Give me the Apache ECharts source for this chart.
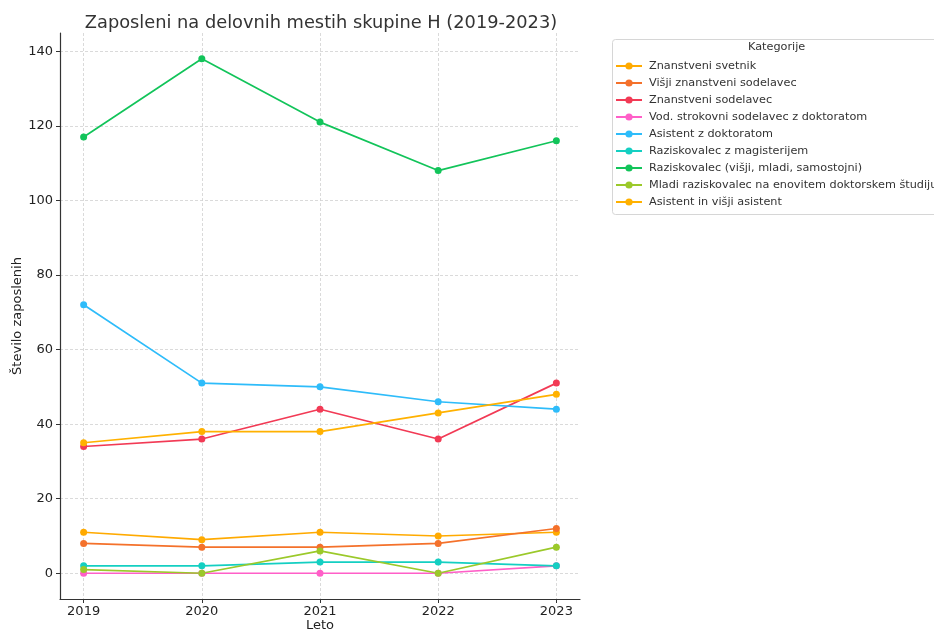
<!DOCTYPE html>
<html>
<head>
<meta charset="utf-8">
<script src="https://cdn.jsdelivr.net/npm/echarts@6/dist/echarts.min.js"></script>
<style>
html, body { margin: 0; padding: 0; background: #fff; }
#container { width: 934px; height: 632px; }
</style>
</head>
<body>
<div id="container"></div>
<script>
var dom = document.getElementById("container");
var myChart = echarts.init(dom);

// leta
var years = [2019, 2020, 2021, 2022, 2023];
var yTicks = [0, 20, 40, 60, 80, 100, 120, 140];

// kategorije in barve
var names = [
    'Znanstveni svetnik',
    'Višji znanstveni sodelavec',
    'Znanstveni sodelavec',
    'Vod. strokovni sodelavec z doktoratom',
    'Asistent z doktoratom',
    'Raziskovalec z magisterijem',
    'Raziskovalec (višji, mladi, samostojni)',
    'Mladi raziskovalec na enovitem doktorskem študiju',
    'Asistent in višji asistent'
];
var colors = ['#ffaa00', '#f4712b', '#f23a55', '#ff5fc8', '#2ebcfa', '#14cfc2', '#12c45a', '#9bc92a', '#ffb100'];

// stevilo zaposlenih
var znanstveniSvetnik = [11, 9, 11, 10, 11];
var visjiZnSodelavec = [8, 7, 7, 8, 12];
var znSodelavec = [34, 36, 44, 36, 51];
var vodStrokovni = [0, 0, 0, 0, 2];
var asistentDr = [72, 51, 50, 46, 44];
var raziskovalecMag = [2, 2, 3, 3, 2];
var raziskovalec = [117, 138, 121, 108, 116];
var mladiRaziskovalec = [1, 0, 6, 0, 7];
var asistentVisji = [35, 38, 38, 43, 48];

var values = [znanstveniSvetnik, visjiZnSodelavec, znSodelavec, vodStrokovni, asistentDr,
    raziskovalecMag, raziskovalec, mladiRaziskovalec, asistentVisji];

var series = [];
for (var i = 0; i < names.length; i++) {
    var pts = [];
    for (var j = 0; j < years.length; j++) {
        pts.push([years[j], values[i][j]]);
    }
    series.push({
        name: names[i],
        type: 'line',
        data: pts,
        symbol: 'circle',
        symbolSize: 7,
        lineStyle: { width: 1.7, color: colors[i] },
        itemStyle: { color: colors[i] },
        emphasis: { disabled: true },
        animation: false
    });
}

var option = {
    backgroundColor: '#fff',
    color: colors,
    textStyle: { fontFamily: 'DejaVu Sans' },
    title: {
        text: 'Zaposleni na delovnih mestih skupine H (2019-2023)',
        left: 316,
        textAlign: 'center',
        top: 9,
        textStyle: { fontSize: 17.8, fontWeight: 'normal', color: '#333', fontFamily: 'DejaVu Sans' }
    },
    grid: { left: 60, right: 354, top: 33, bottom: 33, outerBoundsMode: 'none', containLabel: false },
    legend: {
        orient: 'vertical',
        left: 615,
        top: 59,
        itemWidth: 26,
        itemHeight: 9,
        itemGap: 3,
        padding: 0,
        data: names,
        textStyle: { fontSize: 11.25, color: '#333', lineHeight: 14, padding: [0, 0, 0, 2] }
    },
    xAxis: {
        type: 'value',
        min: 2018.8,
        max: 2023.2,
        name: 'Leto',
        nameLocation: 'middle',
        nameGap: 20,
        nameMoveOverlap: false,
        nameTextStyle: { fontSize: 13, color: '#222' },
        axisLine: { show: true, onZero: false, lineStyle: { color: '#333', width: 1.2 } },
        axisTick: { show: true, length: 4, customValues: years, lineStyle: { color: '#333' } },
        axisLabel: { customValues: years, fontSize: 13, color: '#222', margin: 6, formatter: function (v) { return String(v); } },
        splitLine: { show: true, lineStyle: { color: '#d0d0d0', type: [3, 2], width: 0.8 } }
    },
    yAxis: {
        type: 'value',
        min: -6.9,
        max: 144.9,
        name: 'Število zaposlenih',
        nameLocation: 'middle',
        nameGap: 36,
        nameMoveOverlap: false,
        nameTextStyle: { fontSize: 13, color: '#222' },
        axisLine: { show: true, onZero: false, lineStyle: { color: '#333', width: 1.2 } },
        axisTick: { show: true, length: 4, customValues: yTicks, lineStyle: { color: '#333' } },
        axisLabel: { customValues: yTicks, fontSize: 13, color: '#222', margin: 7 },
        splitLine: { show: true, lineStyle: { color: '#d0d0d0', type: [3, 2], width: 0.8 } }
    },
    graphic: [
        {
            type: 'rect',
            left: 612,
            top: 39,
            shape: { width: 340, height: 175, r: 3 },
            style: { fill: '#fff', stroke: '#d6d6d6', lineWidth: 1 },
            z: -1,
            silent: true
        },
        {
            type: 'text',
            left: 748,
            top: 42,
            style: { text: 'Kategorije', fontSize: 11.25, fill: '#333', fontFamily: 'DejaVu Sans' },
            silent: true
        }
    ],
    series: series
};

if (option && typeof option === "object") {
    myChart.setOption(option, true);
}
</script>
</body>
</html>
